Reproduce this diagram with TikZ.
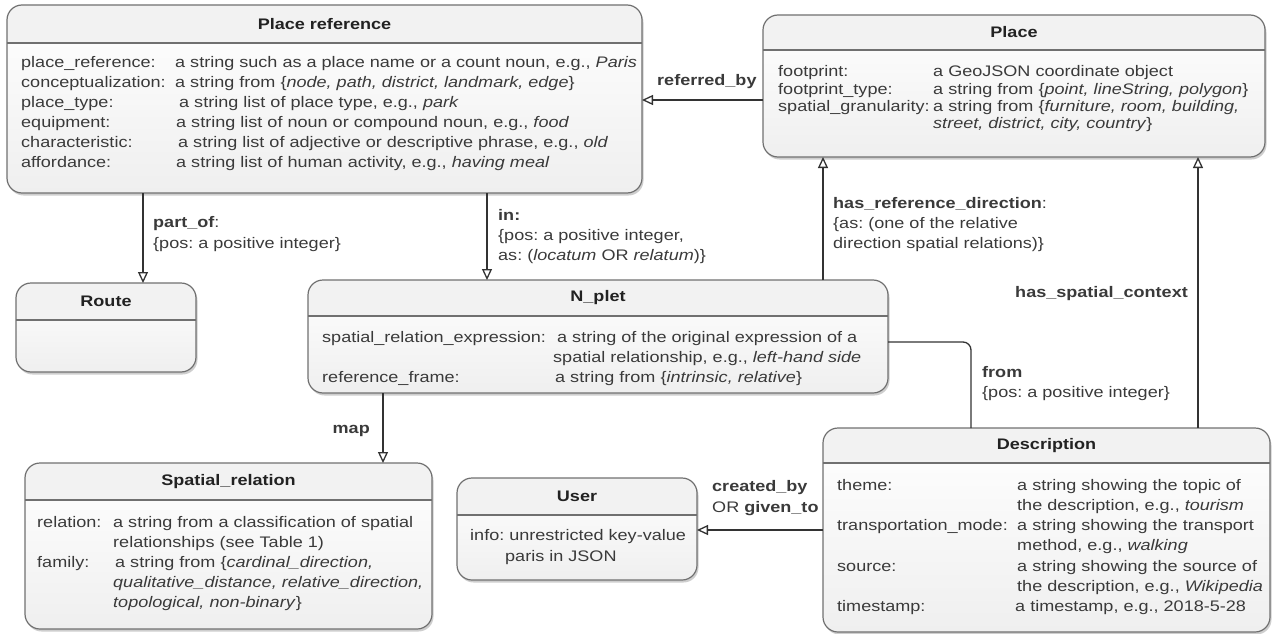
\documentclass[tikz,border=0pt]{standalone}
\usepackage{fontspec}
\setmainfont{Liberation Sans}[FakeStretch=1.18]
\usetikzlibrary{arrows.meta,shadows,fit}
\frenchspacing

\definecolor{ink}{HTML}{3A3A3A}
\definecolor{inkdark}{HTML}{222222}
\definecolor{edgecol}{HTML}{333333}
\definecolor{framecol}{HTML}{707070}
\definecolor{hdrcol}{HTML}{F2F2F2}
\definecolor{bodybot}{HTML}{EFEFEF}

\tikzset{
  boxbg/.style={inner sep=0pt, outer sep=0pt, rounded corners=15pt,
    top color=white, bottom color=bodybot,
    drop shadow={shadow xshift=1.5pt, shadow yshift=-2.5pt, opacity=0.35, fill=black!55}},
  boxline/.style={draw=framecol, line width=1.2pt, rounded corners=15pt},
  sepline/.style={draw=framecol, line width=1.1pt},
  txt/.style={font=\fontsize{15.3}{18}\selectfont, text=ink, inner sep=0pt},
  titletxt/.style={font=\fontsize{15.3}{18}\selectfont\bfseries, text=inkdark, inner sep=0pt},
  lbl/.style={font=\fontsize{15.3}{18}\selectfont, text=ink, inner sep=0pt},
  assoc/.style={draw=edgecol, line width=1.3pt,
    -{Triangle[open, length=11pt, width=10pt]}},
  plainlink/.style={draw=edgecol, line width=1.3pt, rounded corners=8pt},
}

% class box: name, x1, y1, x2, y2, header separator y, title
\newcommand\classbox[7]{%
  \coordinate (#1-a) at (#2,#3);
  \coordinate (#1-b) at (#4,#5);
  \node[boxbg, fit=(#1-a)(#1-b)] (#1) {};
  \begin{scope}
    \clip[rounded corners=15pt] (#2,#3) rectangle (#4,#5);
    \fill[hdrcol] (#2,#3) rectangle (#4,#6);
  \end{scope}
  \draw[boxline] (#2,#3) rectangle (#4,#5);
  \draw[sepline] (#2,#6) -- (#4,#6);
  \node[titletxt] (#1-title) at ({(#2+#4)/2},{(#3+#6)/2}) {#7};
}
% one line of text, placed by its baseline
\newcommand\fieldrow[4]{\node[txt, anchor=base west] (#1) at (#2,#3) {#4};}

\begin{document}
\begin{tikzpicture}[x=1pt,y=-1pt]
\useasboundingbox (0,0) rectangle (1274,634);

% ---------- Place reference ----------
\classbox{pr}{7}{5}{642}{193}{43}{Place reference}
\fieldrow{pr-k1}{21}{67}{place\_reference:}
\fieldrow{pr-v1}{175}{67}{a string such as a place name or a count noun, e.g., \textit{Paris}}
\fieldrow{pr-k2}{21}{87}{conceptualization:}
\fieldrow{pr-v2}{175}{87}{a string from \{\textit{node, path, district, landmark, edge}\}}
\fieldrow{pr-k3}{21}{107}{place\_type:}
\fieldrow{pr-v3}{179}{107}{a string list of place type, e.g., \textit{park}}
\fieldrow{pr-k4}{21}{127}{equipment:}
\fieldrow{pr-v4}{176}{127}{a string list of noun or compound noun, e.g., \textit{food}}
\fieldrow{pr-k5}{21}{147}{characteristic:}
\fieldrow{pr-v5}{178}{147}{a string list of adjective or descriptive phrase, e.g., \textit{old}}
\fieldrow{pr-k6}{21}{167}{affordance:}
\fieldrow{pr-v6}{176}{167}{a string list of human activity, e.g., \textit{having meal}}

% ---------- Place ----------
\classbox{pl}{763}{15}{1265}{157}{50}{Place}
\fieldrow{pl-k1}{778}{77}{footprint:}
\fieldrow{pl-v1}{933}{77}{a GeoJSON coordinate object}
\fieldrow{pl-k2}{778}{94}{footprint\_type:}
\fieldrow{pl-v2}{933}{94}{a string from \{\textit{point, lineString, polygon}\}}
\fieldrow{pl-k3}{778}{111}{spatial\_granularity:}
\fieldrow{pl-v3}{933}{111}{a string from \{\textit{furniture, room, building,}}
\fieldrow{pl-v4}{933}{128}{\textit{street, district, city, country}\}}

% ---------- Route ----------
\classbox{rt}{16}{283}{196}{372}{320}{Route}

% ---------- N_plet ----------
\classbox{np}{308}{280}{888}{393}{316}{N\_plet}
\fieldrow{np-k1}{322}{342}{spatial\_relation\_expression:}
\fieldrow{np-v1}{557}{342}{a string of the original expression of a}
\fieldrow{np-v2}{553}{362}{spatial relationship, e.g., \textit{left-hand side}}
\fieldrow{np-k3}{322}{382}{reference\_frame:}
\fieldrow{np-v3}{555}{382}{a string from \{\textit{intrinsic, relative}\}}

% ---------- Spatial_relation ----------
\classbox{sr}{25}{463}{432}{629}{500}{Spatial\_relation}
\fieldrow{sr-k1}{37}{527}{relation:}
\fieldrow{sr-v1}{113}{527}{a string from a classification of spatial}
\fieldrow{sr-v2}{113}{547}{relationships (see Table 1)}
\fieldrow{sr-k3}{37}{567}{family:}
\fieldrow{sr-v3}{115}{567}{a string from \{\textit{cardinal\_direction,}}
\fieldrow{sr-v4}{113}{587}{\textit{qualitative\_distance, relative\_direction,}}
\fieldrow{sr-v5}{113}{607}{\textit{topological, non-binary}\}}

% ---------- User ----------
\classbox{us}{457}{478}{697}{580}{515}{User}
\fieldrow{us-v1}{470}{540}{info: unrestricted key-value}
\fieldrow{us-v2}{505}{561}{paris in JSON}

% ---------- Description ----------
\classbox{de}{823}{428}{1270}{632}{463}{Description}
\fieldrow{de-k1}{837}{490}{theme:}
\fieldrow{de-v1}{1017}{490}{a string showing the topic of}
\fieldrow{de-v2}{1017}{510}{the description, e.g., \textit{tourism}}
\fieldrow{de-k3}{837}{530}{transportation\_mode:}
\fieldrow{de-v3}{1017}{530}{a string showing the transport}
\fieldrow{de-v4}{1017}{550}{method, e.g., \textit{walking}}
\fieldrow{de-k5}{837}{571}{source:}
\fieldrow{de-v5}{1017}{571}{a string showing the source of}
\fieldrow{de-v6}{1017}{591}{the description, e.g., \textit{Wikipedia}}
\fieldrow{de-k7}{837}{611}{timestamp:}
\fieldrow{de-v7}{1015}{611}{a timestamp, e.g., 2018-5-28}

% ---------- connector guide positions ----------
\coordinate (g-refby) at (0,100);
\coordinate (g-partof) at (143,0);
\coordinate (g-in) at (487,0);
\coordinate (g-hrd) at (823,0);
\coordinate (g-hsc) at (1198,0);
\coordinate (g-fromy) at (0,342);
\coordinate (g-fromx) at (971,0);
\coordinate (g-map) at (383,0);
\coordinate (g-cby) at (0,530);

% ---------- connectors ----------
\draw[assoc] (pl.west |- g-refby) -- (pr.east |- g-refby);
\draw[assoc] (pr.south -| g-partof) -- (rt.north -| g-partof);
\draw[assoc] (pr.south -| g-in) -- (np.north -| g-in);
\draw[assoc] (np.north -| g-hrd) -- (pl.south -| g-hrd);
\draw[assoc] (de.north -| g-hsc) -- (pl.south -| g-hsc);
\draw[plainlink] (np.east |- g-fromy) -| (de.north -| g-fromx);
\draw[assoc] (np.south -| g-map) -- (sr.north -| g-map);
\draw[assoc] (de.west |- g-cby) -- (us.east |- g-cby);

% ---------- connector labels ----------
\node[lbl, anchor=base west] (l-refby) at (657,85) {\textbf{referred\_by}};
\node[lbl, anchor=base west] (l-partof1) at (153,227) {\textbf{part\_of}:};
\node[lbl, anchor=base west] (l-partof2) at (153,248) {\{pos: a positive integer\}};
\node[lbl, anchor=base west] (l-in1) at (498,220) {\textbf{in:}};
\node[lbl, anchor=base west] (l-in2) at (498,240) {\{pos: a positive integer,};
\node[lbl, anchor=base west] (l-in3) at (498,260) {as: (\textit{locatum} OR \textit{relatum})\}};
\node[lbl, anchor=base west] (l-hrd1) at (833,208) {\textbf{has\_reference\_direction}:};
\node[lbl, anchor=base west] (l-hrd2) at (833,228) {\{as: (one of the relative};
\node[lbl, anchor=base west] (l-hrd3) at (833,248) {direction spatial relations)\}};
\node[lbl, anchor=base east] (l-hsc) at (1188,297) {\textbf{has\_spatial\_context}};
\node[lbl, anchor=base west] (l-from1) at (982,377) {\textbf{from}};
\node[lbl, anchor=base west] (l-from2) at (982,397) {\{pos: a positive integer\}};
\node[lbl, anchor=base east] (l-map) at (370,433) {\textbf{map}};
\node[lbl, anchor=base west] (l-cby1) at (712,491) {\textbf{created\_by}};
\node[lbl, anchor=base west] (l-cby2) at (712,512) {OR \textbf{given\_to}};
\end{tikzpicture}
\end{document}
